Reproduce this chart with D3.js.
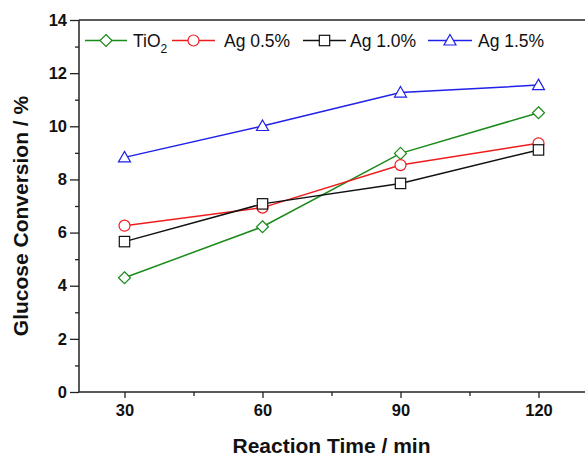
<!DOCTYPE html>
<html><head><meta charset="utf-8">
<script src="https://cdn.jsdelivr.net/npm/d3@7"></script>
<style>body{margin:0;background:#fff}svg{display:block}</style>
</head><body>
<svg id="c" width="585" height="458"></svg>
<script>
const times = [30, 60, 90, 120];
const tio2 = [4.30, 6.22, 8.98, 10.51];
const ag05 = [6.26, 6.94, 8.54, 9.36];
const ag10 = [5.66, 7.08, 7.85, 9.11];
const ag15 = [8.83, 10.01, 11.27, 11.55];
const seriesNames = ["TiO2", "Ag 0.5%", "Ag 1.0%", "Ag 1.5%"];
const xTicks = [30, 60, 90, 120];
const xMinor = [45, 75, 105];
const yTicks = [0, 2, 4, 6, 8, 10, 12, 14];
const yMinor = [1, 3, 5, 7, 9, 11, 13];

const svg = d3.select("#c");
const font = "'Liberation Sans', Arial, sans-serif";
const x = d3.scaleLinear().domain([20, 135]).range([78.5, 607.5]);
const y = d3.scaleLinear().domain([0, 14]).range([392, 20]);

const series = [
  {name: seriesNames[0], vals: tio2, color: "#1a8a1a", shape: "diamond"},
  {name: seriesNames[1], vals: ag05, color: "#ee1c1c", shape: "circle"},
  {name: seriesNames[2], vals: ag10, color: "#111111", shape: "square"},
  {name: seriesNames[3], vals: ag15, color: "#2020e8", shape: "triangle"}
];

function marker(g, shape, cx, cy, color) {
  let el;
  if (shape === "circle") el = g.append("circle").attr("cx", cx).attr("cy", cy).attr("r", 5.5);
  else if (shape === "square") el = g.append("rect").attr("x", cx - 5.2).attr("y", cy - 5.2).attr("width", 10.4).attr("height", 10.4);
  else if (shape === "diamond") el = g.append("path").attr("d", `M${cx},${cy-6}L${cx+6},${cy}L${cx},${cy+6}L${cx-6},${cy}Z`);
  else el = g.append("path").attr("d", `M${cx},${cy-6}L${cx+6},${cy+4.5}L${cx-6},${cy+4.5}Z`);
  el.attr("fill", "#fff").attr("stroke", color).attr("stroke-width", 1.2);
}

// axes
const axCol = "#222";
const xAxis = svg.append("g").attr("transform", "translate(0,392)")
  .call(d3.axisBottom(x).tickValues(xTicks).tickSize(6).tickSizeOuter(0).tickPadding(6));
const yAxis = svg.append("g").attr("transform", "translate(79,0)")
  .call(d3.axisLeft(y).tickValues(yTicks).tickSize(9).tickSizeOuter(0).tickPadding(3));
[xAxis, yAxis].forEach(a => {
  a.select(".domain").attr("stroke", axCol).attr("stroke-width", 1.5);
  a.selectAll(".tick line").attr("stroke", axCol).attr("stroke-width", 1.3);
  a.selectAll(".tick text").attr("fill", "#111").attr("font-family", font)
    .attr("font-weight", "bold").attr("font-size", 16.5);
});
xAxis.select(".domain").attr("d", `M79,0H600`);
yAxis.select(".domain").attr("d", `M0,${y(0)}V${y(14)}`);
svg.append("g").attr("transform", "translate(0,392)")
  .call(d3.axisBottom(x).tickValues(xMinor).tickSize(4).tickFormat(""))
  .call(g => { g.select(".domain").remove(); g.selectAll("line").attr("stroke", axCol).attr("stroke-width", 1.3); });
svg.append("g").attr("transform", "translate(79,0)")
  .call(d3.axisLeft(y).tickValues(yMinor).tickSize(4).tickFormat(""))
  .call(g => { g.select(".domain").remove(); g.selectAll("line").attr("stroke", axCol).attr("stroke-width", 1.3); });
// top frame
svg.append("line").attr("x1", 79).attr("x2", 600).attr("y1", y(14)).attr("y2", y(14))
  .attr("stroke", axCol).attr("stroke-width", 1.5);

// series
const line = d3.line().x((d, i) => x(times[i])).y(d => y(d));
series.forEach(s => {
  svg.append("path").attr("d", line(s.vals)).attr("fill", "none")
    .attr("stroke", s.color).attr("stroke-width", 1.5);
});
series.forEach(s => {
  const g = svg.append("g");
  s.vals.forEach((v, i) => marker(g, s.shape, x(times[i]), y(v), s.color));
});

// legend
const legPos = [
  {x0: 85, x1: 127, tx: 133},
  {x0: 172, x1: 215, tx: 224},
  {x0: 303, x1: 346, tx: 350},
  {x0: 428, x1: 472, tx: 478}
];
const ly = 40.5;
series.forEach((s, i) => {
  const p = legPos[i];
  const g = svg.append("g");
  g.append("line").attr("x1", p.x0).attr("x2", p.x1).attr("y1", ly).attr("y2", ly)
    .attr("stroke", s.color).attr("stroke-width", 1.5);
  marker(g, s.shape, (p.x0 + p.x1) / 2, ly, s.color);
  const t = g.append("text").attr("x", p.tx).attr("y", 47).attr("font-family", font)
    .attr("font-size", 17.5).attr("fill", "#111");
  if (s.name === "TiO2") {
    t.append("tspan").text("TiO");
    t.append("tspan").attr("font-size", 12).attr("dy", 6).text("2");
  } else {
    t.text(s.name);
  }
});

// axis titles
svg.append("text").attr("x", 331.5).attr("y", 453).attr("text-anchor", "middle")
  .attr("font-family", font).attr("font-weight", "bold").attr("font-size", 21).attr("fill", "#111")
  .text("Reaction Time / min");
svg.append("text").attr("transform", "translate(28,216) rotate(-90)").attr("text-anchor", "middle")
  .attr("font-family", font).attr("font-weight", "bold").attr("font-size", 21).attr("fill", "#111")
  .text("Glucose Conversion / %");
</script>
</body></html>
